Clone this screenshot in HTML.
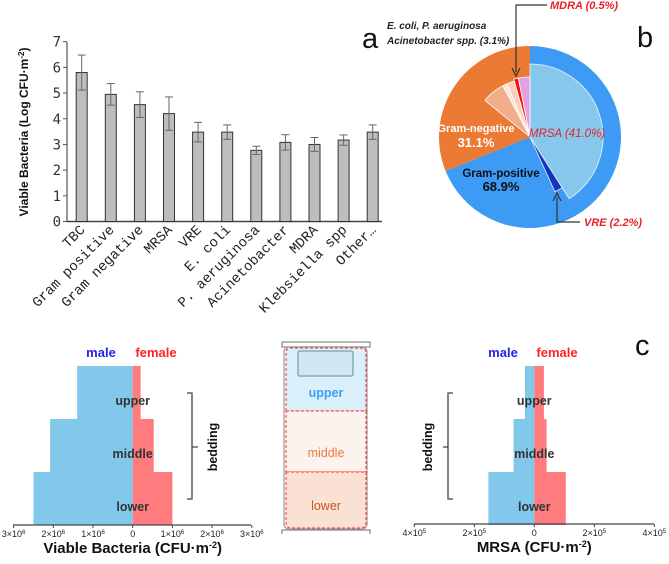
<!DOCTYPE html>
<html><head><meta charset="utf-8">
<style>
html,body{margin:0;padding:0;background:#fff;}
svg{display:block;font-family:"Liberation Sans",sans-serif;}
</style></head>
<body>
<svg id="fig" width="669" height="564" viewBox="0 0 669 564">
<g id="panelA"></g>
<g id="panelB"></g>
<g id="panelC"></g>
</svg>
<script>
// ---- Panel a data ----
const barCategories = ["TBC","Gram positive","Gram negative","MRSA","VRE","E. coli","P. aeruginosa","Acinetobacter","MDRA","Klebsiella spp","Other…"];
const barValues = [5.8,4.95,4.55,4.2,3.48,3.48,2.77,3.08,3.0,3.17,3.48];
const barErrors = [0.68,0.42,0.5,0.65,0.38,0.28,0.16,0.3,0.27,0.2,0.28];
const barTicks = [0,1,2,3,4,5,6,7];
// ---- Panel b data ----
const pieOuterLabels = ["Gram-positive","Gram-negative"];
const pieOuterValues = [68.9,31.1];
const pieInnerPosNames = ["MRSA","VRE"];
const pieInnerPosValues = [41.0,2.2];
const pieInnerNegNames = ["salmon-group","peach-a","peach-b","MDRA","pink-group"];
const pieInnerNegValues = [6.4,1.2,2.2,0.5,3.1];
// ---- Panel c data ----
const levels = ["upper","middle","lower"];
const vbMale = [1.4e6,2.08e6,2.5e6];
const vbFemale = [0.2e6,0.53e6,1.0e6];
const vbTicks = [-3e6,-2e6,-1e6,0,1e6,2e6,3e6];
const mrsaMale = [31000,69000,153000];
const mrsaFemale = [32000,41000,105000];
const mrsaTicks = [-4e5,-2e5,0,2e5,4e5];

const NS="http://www.w3.org/2000/svg";
function mk(parent,tag,attrs,text){const e=document.createElementNS(NS,tag);for(const k in attrs)e.setAttribute(k,attrs[k]);if(text!==undefined)e.textContent=text;parent.appendChild(e);return e;}

// ===== Panel a =====
(function(){
const g=document.getElementById('panelA');
const x0=67,y0=221.5,yTop=41.7,vmax=7;
const yS=v=>y0-(v/vmax)*(y0-yTop);
const xS=i=>81.7+i*29.1;
let e=mk(g,'line',{x1:x0,y1:yTop,x2:x0,y2:y0,stroke:'#555','stroke-width':1.2});

e=mk(g,'line',{x1:x0,y1:y0,x2:382,y2:y0,stroke:'#444','stroke-width':1.5});

barTicks.forEach(t=>{
 mk(g,'line',{x1:x0-4,y1:yS(t),x2:x0,y2:yS(t),stroke:'#555'});
 e=mk(g,'text',{x:x0-6,y:yS(t)+5,'text-anchor':'end','font-size':14,fill:'#333','font-family':'"DejaVu Sans Mono",monospace'},String(t));
 
});
e=mk(g,'text',{x:0,y:0,transform:'translate(28,132) rotate(-90)','text-anchor':'middle','font-size':12,'font-weight':'bold',fill:'#111'},'Viable Bacteria (Log CFU·m');

mk(e,'tspan',{'baseline-shift':'super','font-size':8},'-2');
e.appendChild(document.createTextNode(')'));
barValues.forEach((v,i)=>{
 const cx=xS(i);
 let r=mk(g,'rect',{x:cx-5.5,y:yS(v),width:11,height:y0-yS(v),fill:'#bdbdbd',stroke:'#333','stroke-width':1});
 
 
 const hi=yS(v+barErrors[i]),lo=yS(v-barErrors[i]);
 mk(g,'line',{x1:cx,y1:hi,x2:cx,y2:lo,stroke:'#666','stroke-width':1});
 mk(g,'line',{x1:cx-4,y1:hi,x2:cx+4,y2:hi,stroke:'#666','stroke-width':1});
 mk(g,'line',{x1:cx-4,y1:lo,x2:cx+4,y2:lo,stroke:'#666','stroke-width':1});
 let t=mk(g,'text',{x:0,y:0,transform:`translate(${cx+4},${y0+9}) rotate(-45)`,'text-anchor':'end','font-size':14,'font-family':'"Liberation Mono",monospace',fill:'#222'},barCategories[i]);
 
});
e=mk(g,'text',{x:362,y:48,'font-size':29,fill:'#111'},'a');

})();

// ===== Panel b =====
(function(){
const g=document.getElementById('panelB');
const cx=530,cy=137;
function pt(a,r){const t=a*Math.PI/180;return [cx+r*Math.sin(t),cy-r*Math.cos(t)];}
function wedge(a0,a1,r,fill,name,stroke){
 const p0=pt(a0,r),p1=pt(a1,r);const large=(a1-a0)>180?1:0;
 const e=mk(g,'path',{d:`M${cx},${cy} L${p0[0]},${p0[1]} A${r},${r} 0 ${large} 1 ${p1[0]},${p1[1]} Z`,fill:fill,stroke:stroke||'none','stroke-width':0.8});
 return e;}
const posDeg=pieOuterValues[0]/100*360;
wedge(0,posDeg,91,'#3d9bf5','slice-gram-positive');
wedge(posDeg,360,91,'#eb7a35','slice-gram-negative');
let a=0;const posColors=['#85c8ec','#1434c0'];const posR=[73,60];
pieInnerPosValues.forEach((v,i)=>{const d=v/100*360;wedge(a,a+d,posR[i],posColors[i],'slice-'+pieInnerPosNames[i].toLowerCase(),'#e8f4fc');a+=d;});
const negColors=['#f2ae88','#fbe3d6','#f8d0ba','#ff1010','#e2a2e2'];
const negR=[58,58,58,60,60];
const negScale=[1,1,1,2.5,1];
let tot=pieInnerNegValues.reduce((s,v,i)=>s+v*negScale[i],0)/100*360;
let b=360-tot;
pieInnerNegValues.forEach((v,i)=>{const d=v*negScale[i]/100*360;wedge(b,b+d,negR[i],negColors[i],'slice-'+pieInnerNegNames[i],'#fff');b+=d;});
function txt(x,y,s,attrs,name){const e=mk(g,'text',Object.assign({x:x,y:y},attrs),s);return e;}
txt(476,132,'Gram-negative',{'text-anchor':'middle','font-size':11,'font-weight':'bold',fill:'#fff'},'label-gram-negative');
txt(476,147,pieOuterValues[1]+'%',{'text-anchor':'middle','font-size':13,'font-weight':'bold',fill:'#fff'},'value-gram-negative');
txt(501,177,'Gram-positive',{'text-anchor':'middle','font-size':11.5,'font-weight':'bold',fill:'#111'},'label-gram-positive');
txt(501,191,pieOuterValues[0]+'%',{'text-anchor':'middle','font-size':13,'font-weight':'bold',fill:'#111'},'value-gram-positive');
txt(567,137,'MRSA ('+pieInnerPosValues[0].toFixed(1)+'%)',{'text-anchor':'middle','font-size':11.5,'font-style':'italic',fill:'#e8202a'},'label-mrsa');
txt(584,226,'VRE ('+pieInnerPosValues[1].toFixed(1)+'%)',{'font-size':11,'font-style':'italic','font-weight':'bold',fill:'#e8202a'},'label-vre');
txt(550,9,'MDRA (0.5%)',{'font-size':11,'font-style':'italic','font-weight':'bold',fill:'#e8202a'},'label-mdra');
txt(387,29,'E. coli, P. aeruginosa',{'font-size':10,'font-style':'italic','font-weight':'bold',fill:'#222'},'label-ecoli-group');
txt(387,44,'Acinetobacter spp. (3.1%)',{'font-size':10,'font-style':'italic','font-weight':'bold',fill:'#222'},'label-acinetobacter-group');
let e=mk(g,'polyline',{points:'547,5 516,5 516,72',fill:'none',stroke:'#333','stroke-width':1.2});

mk(g,'path',{d:'M512,68 L516,76 L520,68',fill:'none',stroke:'#333','stroke-width':1.2});
e=mk(g,'polyline',{points:'580,222 557,222 557,197',fill:'none',stroke:'#333','stroke-width':1.2});

mk(g,'path',{d:'M553,201 L557,193 L561,201',fill:'none',stroke:'#333','stroke-width':1.2});
txt(637,47,'b',{'font-size':29,fill:'#111'},'panel-label-b');
})();

// ===== Panel c =====
(function(){
const g=document.getElementById('panelC');
const tops=[366,419,472],h=53;
function txt(x,y,s,attrs,name){const e=mk(g,'text',Object.assign({x:x,y:y},attrs),s);return e;}
function tickLabel(x,y,v,name){
 const e=mk(g,'text',{x:x,y:y,'text-anchor':'middle','font-size':9,fill:'#222'});
 
 if(v===0){e.textContent='0';return;}
 const exp=Math.floor(Math.log10(Math.abs(v)));const m=Math.round(Math.abs(v)/Math.pow(10,exp));
 e.textContent=m+'×10';mk(e,'tspan',{'baseline-shift':'super','font-size':6},String(exp));
}
function pyramid(x0,scale,male,female,ticks,axL,axR,axY,prefix,title){
 levels.forEach((lv,i)=>{
  let r=mk(g,'rect',{x:x0-male[i]*scale,y:tops[i],width:male[i]*scale,height:h,fill:'#82c8ea'});
  
  r=mk(g,'rect',{x:x0,y:tops[i],width:female[i]*scale,height:h,fill:'#ff7b7e'});
  
 });
 levels.forEach((lv,i)=>{txt(x0,tops[i]+39,lv,{'text-anchor':'middle','font-size':12.5,'font-weight':'bold',fill:'#333'},prefix+'-label-'+lv);});
 let e=mk(g,'line',{x1:axL,y1:axY,x2:axR,y2:axY,stroke:'#444','stroke-width':1.2});
 
 ticks.forEach(t=>{const x=x0+t*scale;mk(g,'line',{x1:x,y1:axY,x2:x,y2:axY+3,stroke:'#444'});tickLabel(x,axY+12,t,prefix+'-tick-label');});
 txt(x0,axY+28,title,{'text-anchor':'middle','font-size':15,'font-weight':'bold',fill:'#111'},prefix+'-axis-title');
 const te=g.lastChild;mk(te,'tspan',{'baseline-shift':'super','font-size':9},'-2');te.appendChild(document.createTextNode(')'));
}
pyramid(132.7,39.7/1e6,vbMale,vbFemale,vbTicks,13,251,525,'viable','Viable Bacteria (CFU·m');
pyramid(534.3,60/2e5,mrsaMale,mrsaFemale,mrsaTicks,414,654,524,'mrsa','MRSA (CFU·m');
txt(101,357,'male',{'text-anchor':'middle','font-size':13,'font-weight':'bold',fill:'#2222ee'},'legend-male-left');
txt(156,357,'female',{'text-anchor':'middle','font-size':13,'font-weight':'bold',fill:'#ff2222'},'legend-female-left');
txt(503,357,'male',{'text-anchor':'middle','font-size':13,'font-weight':'bold',fill:'#2222ee'},'legend-male-right');
txt(557,357,'female',{'text-anchor':'middle','font-size':13,'font-weight':'bold',fill:'#ff2222'},'legend-female-right');
let e=mk(g,'path',{d:'M187,393 L192,393 L192,499 L187,499 M192,447 L198,447',fill:'none',stroke:'#444','stroke-width':1.3});

e=mk(g,'path',{d:'M453,393 L448,393 L448,499 L453,499 M448,447 L443,447',fill:'none',stroke:'#444','stroke-width':1.3});

txt(0,0,'bedding',{transform:'translate(217,447) rotate(-90)','text-anchor':'middle','font-size':12.5,'font-weight':'bold',fill:'#111'},'bedding-label-left');
txt(0,0,'bedding',{transform:'translate(432,447) rotate(-90)','text-anchor':'middle','font-size':12.5,'font-weight':'bold',fill:'#111'},'bedding-label-right');
const bed=mk(g,'g',{});
mk(bed,'rect',{x:282,y:342,width:88,height:5,fill:'#fff',stroke:'#888','stroke-width':1.2});
mk(bed,'rect',{x:284,y:347,width:83,height:182,rx:5,fill:'#fff',stroke:'#999','stroke-width':1.2});
e=mk(bed,'path',{d:'M286,411 L286,353 Q286,348 291,348 L361,348 Q366,348 366,353 L366,411 Z',fill:'#d9f0fb',stroke:'#ff2a2a','stroke-width':1,'stroke-dasharray':'3,2'});

e=mk(bed,'rect',{x:286,y:411,width:80,height:61,fill:'#fdf3ee',stroke:'#ff2a2a','stroke-width':1,'stroke-dasharray':'3,2'});

e=mk(bed,'path',{d:'M286,472 L366,472 L366,523 Q366,528 361,528 L291,528 Q286,528 286,523 Z',fill:'#fbe0d4',stroke:'#ff2a2a','stroke-width':1,'stroke-dasharray':'3,2'});

e=mk(bed,'rect',{x:298,y:351,width:55,height:25,rx:2,fill:'#d0e8f2',stroke:'#7d9aa6','stroke-width':1.2});

mk(bed,'path',{d:'M282,534 L282,530 L370,530 L370,534',fill:'none',stroke:'#888','stroke-width':1.2});
txt(326,397,'upper',{'text-anchor':'middle','font-size':12.5,'font-weight':'bold',fill:'#3a9ff0'},'bed-label-upper');
txt(326,457,'middle',{'text-anchor':'middle','font-size':12.5,fill:'#ec7a3a'},'bed-label-middle');
txt(326,510,'lower',{'text-anchor':'middle','font-size':12.5,fill:'#c25a26'},'bed-label-lower');
txt(635,355,'c',{'font-size':29,fill:'#111'},'panel-label-c');
})();
</script>
</body></html>
